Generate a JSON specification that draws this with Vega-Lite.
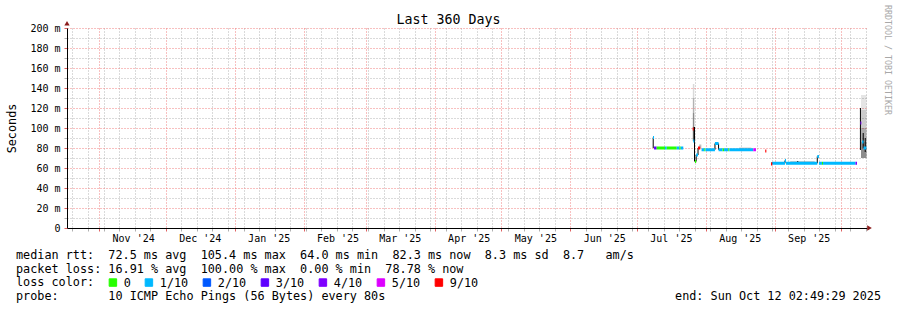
{
  "$schema": "https://vega.github.io/schema/vega-lite/v6.json",
  "width": 800,
  "height": 200,
  "autosize": "none",
  "padding": {"left": 67, "top": 28, "right": 30, "bottom": 82},
  "background": "#ffffff",
  "config": {"view": {"stroke": null}, "font": "DejaVu Sans Mono"},
  "title": {"text": "Last 360 Days", "font": "DejaVu Sans Mono", "fontSize": 13.3, "fontWeight": "normal", "color": "#000000", "anchor": "middle", "frame": "group", "dx": -18.5, "dy": 14, "offset": -19, "baseline": "alphabetic"},
  "datasets": {
    "smoke": [
      {"t1": "2025-07-26T04:00:00Z", "t2": "2025-07-26T20:00:00Z", "lo": 130, "hi": 144, "share": 0.15},
      {"t1": "2025-07-26T04:00:00Z", "t2": "2025-07-26T20:00:00Z", "lo": 115, "hi": 130, "share": 0.3},
      {"t1": "2025-07-26T04:00:00Z", "t2": "2025-07-26T20:00:00Z", "lo": 101, "hi": 115, "share": 0.45},
      {"t1": "2025-07-26T04:00:00Z", "t2": "2025-07-26T20:00:00Z", "lo": 87, "hi": 101, "share": 0.65},
      {"t1": "2025-07-29T00:00:00Z", "t2": "2025-07-30T00:00:00Z", "lo": 80, "hi": 83.5, "share": 0.25},
      {"t1": "2025-08-16T00:00:00Z", "t2": "2025-08-21T12:00:00Z", "lo": 79, "hi": 80.5, "share": 0.2},
      {"t1": "2025-09-08T00:00:00Z", "t2": "2025-09-19T00:00:00Z", "lo": 65.5, "hi": 67, "share": 0.2},
      {"t1": "2025-10-09T20:00:00Z", "t2": "2025-10-12T08:00:00Z", "lo": 118, "hi": 133, "share": 0.1},
      {"t1": "2025-10-09T20:00:00Z", "t2": "2025-10-12T08:00:00Z", "lo": 100, "hi": 118, "share": 0.2},
      {"t1": "2025-10-09T20:00:00Z", "t2": "2025-10-12T08:00:00Z", "lo": 86, "hi": 100, "share": 0.32},
      {"t1": "2025-10-09T20:00:00Z", "t2": "2025-10-12T08:00:00Z", "lo": 70, "hi": 86, "share": 0.45}
    ],
    "steps": [
      {"t": "2025-07-08T08:00:00Z", "lo": 80, "hi": 90.5},
      {"t": "2025-07-26T22:00:00Z", "lo": 66.5, "hi": 101},
      {"t": "2025-07-27T16:00:00Z", "lo": 66.5, "hi": 73},
      {"t": "2025-07-28T12:00:00Z", "lo": 73, "hi": 80},
      {"t": "2025-08-05T03:00:00Z", "lo": 78.3, "hi": 84.5},
      {"t": "2025-08-06T18:00:00Z", "lo": 78.3, "hi": 84.5},
      {"t": "2025-08-30T20:00:00Z", "lo": 64, "hi": 66},
      {"t": "2025-09-05T15:00:00Z", "lo": 64.7, "hi": 67.5},
      {"t": "2025-09-11T09:00:00Z", "lo": 64.7, "hi": 67},
      {"t": "2025-09-20T04:00:00Z", "lo": 64.7, "hi": 71.5},
      {"t": "2025-10-09T14:00:00Z", "lo": 78, "hi": 120},
      {"t": "2025-10-10T20:00:00Z", "lo": 80, "hi": 95},
      {"t": "2025-10-11T18:00:00Z", "lo": 76, "hi": 90}
    ],
    "median": [
      {"t1": "2025-07-08T06:00:00Z", "t2": "2025-07-08T17:00:00Z", "v": 90.5, "loss": "1/10"},
      {"t1": "2025-07-08T17:00:00Z", "t2": "2025-07-09T21:00:00Z", "v": 80, "loss": "3/10"},
      {"t1": "2025-07-09T21:00:00Z", "t2": "2025-07-13T15:00:00Z", "v": 80, "loss": "0"},
      {"t1": "2025-07-13T15:00:00Z", "t2": "2025-07-14T10:00:00Z", "v": 80, "loss": "1/10"},
      {"t1": "2025-07-14T10:00:00Z", "t2": "2025-07-18T22:00:00Z", "v": 80, "loss": "0"},
      {"t1": "2025-07-18T22:00:00Z", "t2": "2025-07-20T02:00:00Z", "v": 80, "loss": "1/10"},
      {"t1": "2025-07-20T02:00:00Z", "t2": "2025-07-20T17:00:00Z", "v": 80, "loss": "0"},
      {"t1": "2025-07-20T17:00:00Z", "t2": "2025-07-21T21:00:00Z", "v": 80, "loss": "1/10"},
      {"t1": "2025-07-26T03:00:00Z", "t2": "2025-07-26T14:00:00Z", "v": 99, "loss": "9/10"},
      {"t1": "2025-07-26T08:00:00Z", "t2": "2025-07-26T20:00:00Z", "v": 87, "loss": "1/10"},
      {"t1": "2025-07-27T03:00:00Z", "t2": "2025-07-27T16:00:00Z", "v": 66.5, "loss": "0"},
      {"t1": "2025-07-27T16:00:00Z", "t2": "2025-07-28T12:00:00Z", "v": 73, "loss": "1/10"},
      {"t1": "2025-07-28T12:00:00Z", "t2": "2025-07-29T12:00:00Z", "v": 80, "loss": "9/10"},
      {"t1": "2025-07-30T02:00:00Z", "t2": "2025-07-31T08:00:00Z", "v": 78.3, "loss": "1/10"},
      {"t1": "2025-07-31T08:00:00Z", "t2": "2025-07-31T20:00:00Z", "v": 78.3, "loss": "0"},
      {"t1": "2025-07-31T20:00:00Z", "t2": "2025-08-05T03:00:00Z", "v": 78.3, "loss": "1/10"},
      {"t1": "2025-08-05T03:00:00Z", "t2": "2025-08-06T18:00:00Z", "v": 84.5, "loss": "1/10"},
      {"t1": "2025-08-06T18:00:00Z", "t2": "2025-08-08T14:00:00Z", "v": 78.3, "loss": "1/10"},
      {"t1": "2025-08-08T14:00:00Z", "t2": "2025-08-09T05:00:00Z", "v": 78.3, "loss": "0"},
      {"t1": "2025-08-09T05:00:00Z", "t2": "2025-08-11T03:00:00Z", "v": 78.3, "loss": "1/10"},
      {"t1": "2025-08-11T03:00:00Z", "t2": "2025-08-11T14:00:00Z", "v": 78.3, "loss": "0"},
      {"t1": "2025-08-11T14:00:00Z", "t2": "2025-08-22T09:00:00Z", "v": 78.3, "loss": "1/10"},
      {"t1": "2025-08-22T09:00:00Z", "t2": "2025-08-23T14:00:00Z", "v": 78.3, "loss": "5/10"},
      {"t1": "2025-08-27T18:00:00Z", "t2": "2025-08-28T06:00:00Z", "v": 77, "loss": "9/10"},
      {"t1": "2025-08-30T08:00:00Z", "t2": "2025-08-31T00:00:00Z", "v": 64, "loss": "9/10"},
      {"t1": "2025-08-31T00:00:00Z", "t2": "2025-09-05T15:00:00Z", "v": 64.7, "loss": "1/10"},
      {"t1": "2025-09-05T15:00:00Z", "t2": "2025-09-06T02:00:00Z", "v": 67.5, "loss": "1/10"},
      {"t1": "2025-09-06T02:00:00Z", "t2": "2025-09-20T04:00:00Z", "v": 64.7, "loss": "1/10"},
      {"t1": "2025-09-20T04:00:00Z", "t2": "2025-09-20T22:00:00Z", "v": 71.5, "loss": "1/10"},
      {"t1": "2025-09-20T22:00:00Z", "t2": "2025-09-22T07:00:00Z", "v": 64.7, "loss": "1/10"},
      {"t1": "2025-09-22T07:00:00Z", "t2": "2025-09-22T18:00:00Z", "v": 64.7, "loss": "0"},
      {"t1": "2025-09-22T18:00:00Z", "t2": "2025-10-07T09:00:00Z", "v": 64.7, "loss": "1/10"},
      {"t1": "2025-10-07T09:00:00Z", "t2": "2025-10-08T01:00:00Z", "v": 64.7, "loss": "4/10"},
      {"t1": "2025-10-09T14:00:00Z", "t2": "2025-10-10T00:00:00Z", "v": 105, "loss": "4/10"},
      {"t1": "2025-10-10T08:00:00Z", "t2": "2025-10-11T00:00:00Z", "v": 86, "loss": "1/10"},
      {"t1": "2025-10-11T00:00:00Z", "t2": "2025-10-12T06:00:00Z", "v": 80, "loss": "1/10"}
    ],
    "arrows": [
      {"t1": "2025-10-13T16:00:00Z", "lo": 0, "axis": "x"},
      {"t1": "2024-10-17T13:00:00Z", "lo": 204.7, "axis": "y"}
    ],
    "footer": [
      {"line": 1, "side": "left", "text": "median\u00a0rtt:\u00a0\u00a072.5\u00a0ms\u00a0avg\u00a0\u00a0105.4\u00a0ms\u00a0max\u00a0\u00a064.0\u00a0ms\u00a0min\u00a0\u00a082.3\u00a0ms\u00a0now\u00a0\u00a08.3\u00a0ms\u00a0sd\u00a0\u00a08.7\u00a0\u00a0\u00a0am/s"},
      {"line": 2, "side": "left", "text": "packet\u00a0loss:\u00a016.91\u00a0%\u00a0avg\u00a0\u00a0100.00\u00a0%\u00a0max\u00a0\u00a00.00\u00a0%\u00a0min\u00a0\u00a078.78\u00a0%\u00a0now"},
      {"line": 3, "side": "left", "text": "loss\u00a0color:"},
      {"line": 4, "side": "left", "text": "probe:\u00a0\u00a0\u00a0\u00a0\u00a0\u00a0\u00a010\u00a0ICMP\u00a0Echo\u00a0Pings\u00a0(56\u00a0Bytes)\u00a0every\u00a080s"},
      {"line": 4, "side": "right", "text": "end:\u00a0Sun\u00a0Oct\u00a012\u00a002:49:29\u00a02025"}
    ]
  },
  "layer": [
    {
      "data": {"name": "smoke"},
      "mark": {"type": "rect", "color": "#000000"},
      "encoding": {
        "x": {"field": "t1", "type": "temporal",
          "scale": {"type": "utc", "domain": [{"year": 2024, "month": 10, "date": 17, "hours": 13, "utc": true}, {"year": 2025, "month": 10, "date": 12, "hours": 13, "utc": true}], "nice": false},
          "axis": {
            "title": null,
            "tickCount": {"interval": "day", "step": 1},
            "grid": true,
            "gridDash": [1, 2],
            "gridColor": {"condition": {"test": "utcdate(datum.value) === 1", "value": "#f08080"}, "value": "#b4b4b4"},
            "gridOpacity": {"condition": {"test": "utcdate(datum.value) === 1 || utcday(datum.value) === 0", "value": 1}, "value": 0},
            "ticks": true,
            "tickSize": 3,
            "tickColor": {"condition": {"test": "utcdate(datum.value) === 1", "value": "#e06060"}, "value": "#b0b0b0"},
            "tickOpacity": {"condition": {"test": "utcdate(datum.value) === 1 || utcday(datum.value) === 0", "value": 1}, "value": 0},
            "labelExpr": "utcdate(datum.value) === 1 && utcmonth(datum.value) !== 9 ? utcFormat(datum.value, \"%b '%y\") : ''",
            "labelOffset": 34,
            "labelPadding": 2,
            "labelFont": "DejaVu Sans Mono",
            "labelFontSize": 10,
            "labelColor": "#000000",
            "labelOverlap": false,
            "labelBound": false,
            "labelFlush": false,
            "domainColor": "#000000",
            "domainWidth": 1
          }
        },
        "x2": {"field": "t2"},
        "y": {"field": "lo", "type": "quantitative",
          "scale": {"domain": [0, 200], "nice": false},
          "axis": {
            "title": "Seconds",
            "titleFont": "DejaVu Sans Mono",
            "titleFontSize": 11.8,
            "titleFontWeight": "normal",
            "titleColor": "#000000",
            "titleAngle": 270,
            "titleX": -56,
            "titleY": 100,
            "titleAlign": "center",
            "titleBaseline": "middle",
            "values": [0, 10, 20, 30, 40, 50, 60, 70, 80, 90, 100, 110, 120, 130, 140, 150, 160, 170, 180, 190, 200],
            "grid": true,
            "gridDash": [1, 2],
            "gridColor": {"condition": {"test": "datum.value % 20 === 0", "value": "#f08080"}, "value": "#b4b4b4"},
            "tickSize": 3,
            "tickColor": {"condition": {"test": "datum.value % 20 === 0", "value": "#e06060"}, "value": "#b0b0b0"},
            "labelExpr": "datum.value % 20 === 0 ? (datum.value === 0 ? '0\u00a0\u00a0' : datum.value + ' m') : ''",
            "labelPadding": 4,
            "labelFont": "DejaVu Sans Mono",
            "labelFontSize": 10,
            "labelColor": "#000000",
            "labelOverlap": false,
            "domainColor": "#000000",
            "domainWidth": 1
          }
        },
        "y2": {"field": "hi"},
        "opacity": {"field": "share", "type": "quantitative", "scale": {"domain": [0, 1], "range": [0, 1]}, "legend": null}
      }
    },
    {
      "data": {"name": "steps"},
      "mark": {"type": "rule", "color": "#000000", "strokeWidth": 1},
      "encoding": {
        "x": {"field": "t", "type": "temporal", "scale": {"type": "utc", "domain": [{"year": 2024, "month": 10, "date": 17, "hours": 13, "utc": true}, {"year": 2025, "month": 10, "date": 12, "hours": 13, "utc": true}], "nice": false}, "axis": null},
        "y": {"field": "lo", "type": "quantitative", "scale": {"domain": [0, 200], "nice": false}, "axis": null},
        "y2": {"field": "hi"}
      }
    },
    {
      "data": {"name": "median"},
      "mark": {"type": "rect", "strokeWidth": 3},
      "encoding": {
        "x": {"field": "t1", "type": "temporal", "scale": {"type": "utc", "domain": [{"year": 2024, "month": 10, "date": 17, "hours": 13, "utc": true}, {"year": 2025, "month": 10, "date": 12, "hours": 13, "utc": true}], "nice": false}, "axis": null},
        "x2": {"field": "t2"},
        "y": {"field": "v", "type": "quantitative", "scale": {"domain": [0, 200], "nice": false}, "axis": null},
        "y2": {"field": "v"},
        "fill": {"field": "loss", "type": "nominal",
          "scale": {"domain": ["0", "1/10", "2/10", "3/10", "4/10", "5/10", "9/10"], "range": ["#26ff00", "#00b8ff", "#0059ff", "#5e00ff", "#7e00ff", "#dd00ff", "#ff0000"]},
          "legend": {"orient": "none", "legendX": 40, "legendY": 248.5, "direction": "horizontal", "title": null, "symbolType": "square", "symbolSize": 56, "symbolStrokeColor": "#000000", "symbolStrokeWidth": 1, "symbolOpacity": 1, "labelFont": "DejaVu Sans Mono", "labelFontSize": 11.8, "labelColor": "#000000", "labelOffset": 5, "columnPadding": 12, "padding": 0,
            "encode": {"symbols": {"update": {"stroke": {"value": "#000000"}, "strokeWidth": {"value": 1}}}}}
        },
        "stroke": {"field": "loss", "type": "nominal",
          "scale": {"domain": ["0", "1/10", "2/10", "3/10", "4/10", "5/10", "9/10"], "range": ["#26ff00", "#00b8ff", "#0059ff", "#5e00ff", "#7e00ff", "#dd00ff", "#ff0000"]},
          "legend": null
        }
      }
    },
    {
      "data": {"name": "arrows"},
      "mark": {"type": "point", "filled": true, "color": "#8b1c1c", "size": 28, "opacity": 1},
      "encoding": {
        "x": {"field": "t1", "type": "temporal", "scale": {"type": "utc", "domain": [{"year": 2024, "month": 10, "date": 17, "hours": 13, "utc": true}, {"year": 2025, "month": 10, "date": 12, "hours": 13, "utc": true}], "nice": false}, "axis": null},
        "y": {"field": "lo", "type": "quantitative", "scale": {"domain": [0, 200], "nice": false}, "axis": null},
        "shape": {"field": "axis", "type": "nominal", "scale": {"domain": ["x", "y"], "range": ["triangle-right", "triangle-up"]}, "legend": null}
      }
    },
    {
      "data": {"name": "footer"},
      "transform": [{"filter": "datum.side === 'left'"}],
      "mark": {"type": "text", "font": "DejaVu Sans Mono", "fontSize": 11.8, "baseline": "middle", "align": "left", "color": "#000000"},
      "encoding": {
        "x": {"field": "side", "type": "nominal", "scale": {"type": "point", "domain": ["left", "right"], "range": [-51, 814], "padding": 0}, "axis": null},
        "y": {"field": "line", "type": "quantitative", "scale": {"domain": [1, 4], "range": [227, 268], "nice": false, "zero": false},
          "axis": {"orient": "right", "title": "RRDTOOL / TOBI OETIKER", "labels": false, "ticks": false, "domain": false, "grid": false, "titleAngle": 90, "titleX": 19, "titleY": 31.5, "titleAlign": "center", "titleBaseline": "middle", "titleFont": "DejaVu Sans Mono", "titleFontSize": 8.3, "titleFontWeight": "normal", "titleColor": "#a8a8a8"}
        },
        "text": {"field": "text"}
      }
    },
    {
      "data": {"name": "footer"},
      "transform": [{"filter": "datum.side === 'right'"}],
      "mark": {"type": "text", "font": "DejaVu Sans Mono", "fontSize": 11.8, "baseline": "middle", "align": "right", "color": "#000000"},
      "encoding": {
        "x": {"field": "side", "type": "nominal", "scale": {"type": "point", "domain": ["left", "right"], "range": [-51, 814], "padding": 0}, "axis": null},
        "y": {"field": "line", "type": "quantitative", "scale": {"domain": [1, 4], "range": [227, 268], "nice": false, "zero": false}, "axis": null},
        "text": {"field": "text"}
      }
    }
  ],
  "resolve": {"scale": {"x": "independent", "y": "independent"}}
}
